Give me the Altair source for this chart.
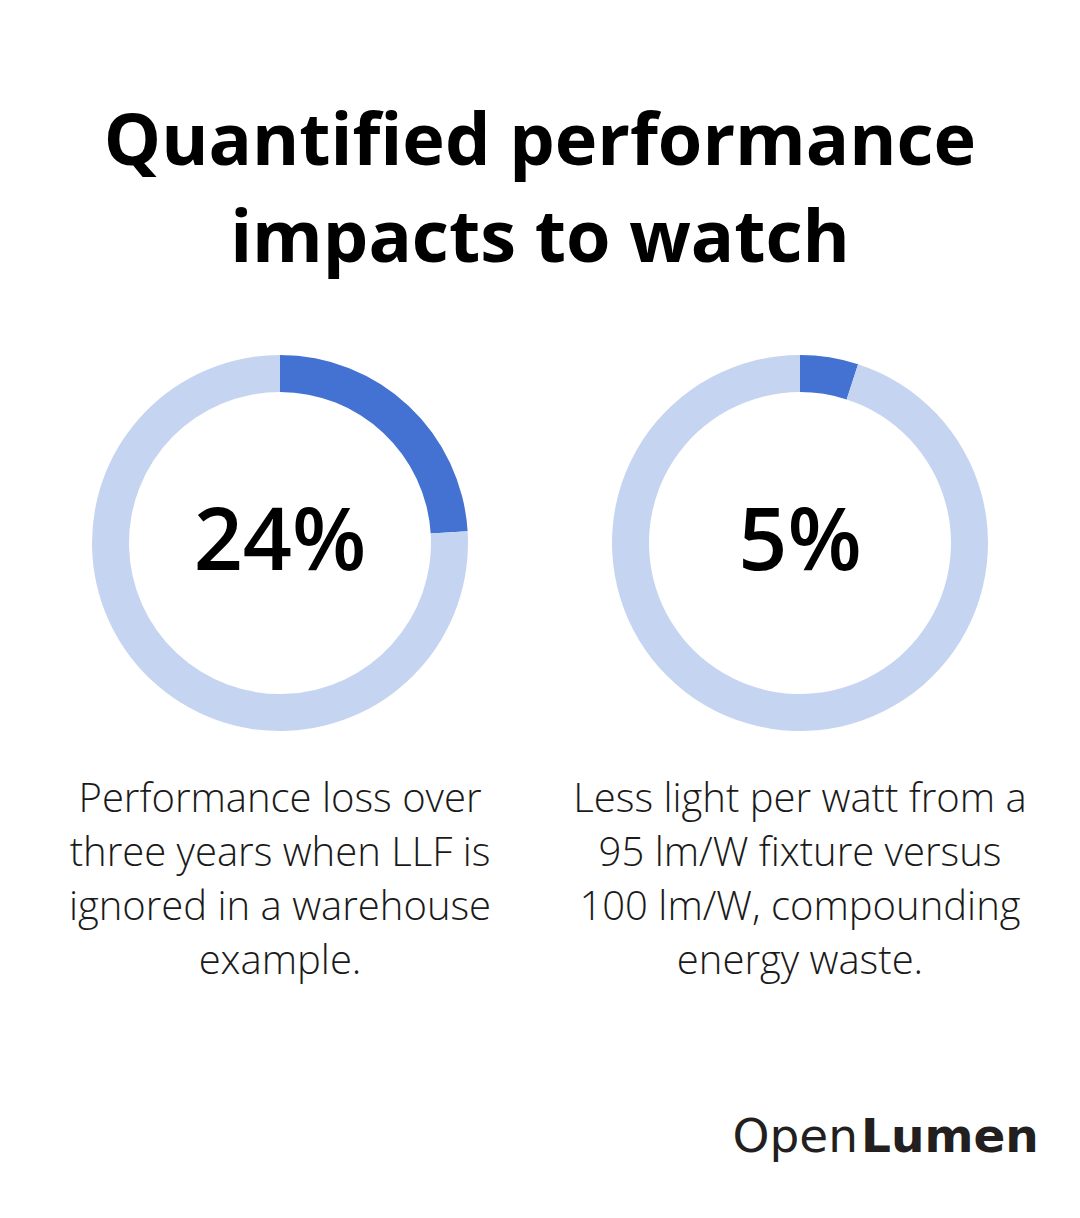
import altair as alt
import pandas as pd

# Figures shown in the two rings
shares = [24, 5]
value_labels = ["24%", "5%"]
descriptions = [
    "Performance loss over\nthree years when LLF is\nignored in a warehouse\nexample.",
    "Less light per watt from a\n95 lm/W fixture versus\n100 lm/W, compounding\nenergy waste.",
]
title_text = "Quantified performance\nimpacts to watch"
brand_light = "Open"
brand_bold = "Lumen"

HIGHLIGHT = "#4472D3"
TRACK = "#C5D5F1"
W, H = 1080, 1218
centers_x = [280, 800]
center_y = 543

layers = []

for i, share in enumerate(shares):
    ring = pd.DataFrame({
        "part": ["value", "rest"],
        "amount": [share, 100 - share],
        "rank": [0, 1],
    })
    layers.append(
        alt.Chart(ring).mark_arc(radius=188, radius2=151, stroke=None).encode(
            theta=alt.Theta("amount:Q", stack=True),
            order=alt.Order("rank:Q"),
            color=alt.Color("part:N",
                            scale=alt.Scale(domain=["value", "rest"], range=[HIGHLIGHT, TRACK]),
                            legend=None),
            x=alt.value(centers_x[i]),
            y=alt.value(center_y),
        )
    )
    layers.append(
        alt.Chart(pd.DataFrame({"t": [value_labels[i]]})).mark_text(
            font="Open Sans", fontSize=86, fontWeight=600, color="#000000",
            align="center", baseline="alphabetic",
        ).encode(text="t:N", x=alt.value(centers_x[i]), y=alt.value(570))
    )
    layers.append(
        alt.Chart(pd.DataFrame({"t": [descriptions[i]]})).mark_text(
            font="Open Sans", fontSize=40, fontWeight=300, color="#1a1a1a",
            align="center", baseline="alphabetic", lineBreak="\n", lineHeight=54,
        ).encode(text="t:N", x=alt.value(centers_x[i]), y=alt.value(812))
    )

# Heading
layers.append(
    alt.Chart(pd.DataFrame({"t": [title_text]})).mark_text(
        font="Open Sans", fontSize=72, fontWeight="bold", color="#000000",
        align="center", baseline="alphabetic", lineBreak="\n", lineHeight=97,
    ).encode(text="t:N", x=alt.value(540), y=alt.value(165))
)

# Wordmark
layers.append(
    alt.Chart(pd.DataFrame({"t": [brand_light]})).mark_text(
        font="DejaVu Sans", fontSize=47, fontWeight=400, color="#231F20",
        align="right", baseline="alphabetic",
    ).encode(text="t:N", x=alt.value(858), y=alt.value(1152))
)
layers.append(
    alt.Chart(pd.DataFrame({"t": [brand_bold]})).mark_text(
        font="DejaVu Sans", fontSize=47, fontWeight="bold", color="#231F20",
        align="left", baseline="alphabetic",
    ).encode(text="t:N", x=alt.value(861), y=alt.value(1152))
)

chart = alt.layer(*layers).properties(
    width=W, height=H, padding=0,
    autosize=alt.AutoSizeParams(type="none"),
    background="white",
).configure_view(stroke=None)

chart.save("out.html", embed_options={"renderer": "svg", "actions": False})
